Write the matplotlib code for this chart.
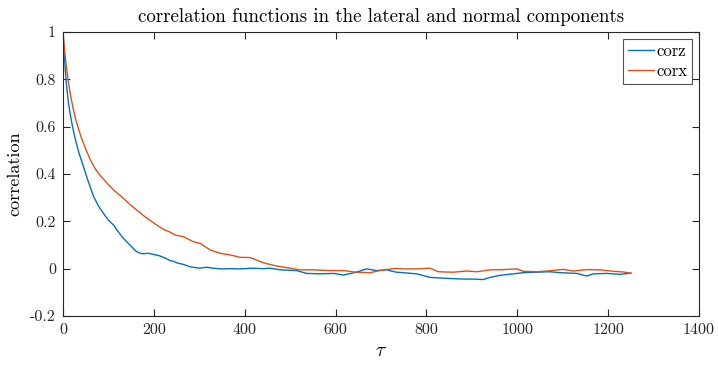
import matplotlib
matplotlib.use("Agg")
import matplotlib.pyplot as plt

plt.rcParams["font.family"] = "serif"
plt.rcParams["font.serif"] = ["cmr10", "DejaVu Serif"]
plt.rcParams["mathtext.fontset"] = "cm"
plt.rcParams["axes.unicode_minus"] = False
plt.rcParams["axes.formatter.use_mathtext"] = True

# lag values and correlation estimates
tau_z = [0, 2, 5, 8, 12, 17, 22, 28, 35, 45, 55, 67, 78, 89, 100, 111, 122, 133, 142,
         151, 160, 166, 175, 188, 200, 213, 225, 236, 245, 250, 265, 280, 300, 316,
         330, 346, 370, 390, 419, 440, 456, 478, 514, 536, 566, 595, 617, 646, 668,
         690, 712, 734, 749, 779, 808, 845, 881, 903, 925, 940, 962, 991, 1013, 1043,
         1072, 1094, 1131, 1153, 1167, 1197, 1226, 1250]
corz = [1.0, 0.93, 0.84, 0.77, 0.70, 0.64, 0.59, 0.54, 0.49, 0.431, 0.372, 0.306,
        0.265, 0.234, 0.205, 0.185, 0.155, 0.128, 0.11, 0.093, 0.075, 0.068, 0.063,
        0.065, 0.06, 0.054, 0.045, 0.034, 0.03, 0.025, 0.018, 0.008, 0.002, 0.006,
        0.002, -0.001, 0.0, -0.001, 0.002, 0.0, 0.002, -0.005, -0.008, -0.02, -0.022,
        -0.02, -0.027, -0.015, -0.001, -0.008, -0.005, -0.015, -0.017, -0.022, -0.037,
        -0.041, -0.044, -0.044, -0.046, -0.037, -0.028, -0.022, -0.017, -0.015, -0.013,
        -0.017, -0.02, -0.031, -0.022, -0.02, -0.024, -0.019]

tau_x = [0, 3, 7, 11, 16, 22, 28, 35, 42, 50, 60, 70, 78, 95, 111, 122, 133, 148, 162,
         180, 199, 221, 235, 247, 265, 287, 302, 324, 346, 368, 390, 412, 441, 470, 500,
         522, 551, 588, 617, 646, 676, 705, 734, 749, 779, 808, 826, 859, 889, 911,
         940, 969, 999, 1013, 1043, 1072, 1101, 1123, 1153, 1182, 1211, 1233, 1250]
corx = [1.0, 0.93, 0.86, 0.80, 0.74, 0.68, 0.63, 0.585, 0.545, 0.505, 0.46, 0.425,
        0.403, 0.365, 0.333, 0.315, 0.297, 0.27, 0.248, 0.22, 0.194, 0.166, 0.155,
        0.142, 0.135, 0.114, 0.107, 0.079, 0.065, 0.058, 0.048, 0.047, 0.025, 0.011,
        0.002, -0.005, -0.005, -0.008, -0.008, -0.015, -0.017, -0.005, 0.001, -0.001,
        -0.001, 0.002, -0.013, -0.015, -0.01, -0.013, -0.005, -0.004, -0.001, -0.011,
        -0.013, -0.009, -0.003, -0.01, -0.004, -0.005, -0.011, -0.014, -0.019]

xticks = [0, 200, 400, 600, 800, 1000, 1200, 1400]
yticks = [-0.2, 0, 0.2, 0.4, 0.6, 0.8, 1]
ytick_labels = ["-0.2", "0", "0.2", "0.4", "0.6", "0.8", "1"]

fig = plt.figure(figsize=(7.18, 3.65), dpi=100)
ax = fig.add_axes([63 / 718, 1 - 316 / 365, 636 / 718, 284 / 365])

ax.plot(tau_z, corz, color="#0072BD", lw=1.0, label="corz")
ax.plot(tau_x, corx, color="#D95319", lw=1.0, label="corx")

ax.set_xlim(0, 1400)
ax.set_ylim(-0.2, 1)
ax.set_xticks(xticks)
ax.set_xticklabels([str(t) for t in xticks])
ax.set_yticks(yticks)
ax.set_yticklabels(ytick_labels)

axis_col = "#262626"
for s in ax.spines.values():
    s.set_color(axis_col)
    s.set_linewidth(0.8)
ax.tick_params(direction="in", length=5, width=0.8, colors=axis_col,
               labelsize=11.5, top=True, right=True, pad=5)
for lbl in ax.get_xticklabels() + ax.get_yticklabels():
    lbl.set_color(axis_col)

ax.set_title("correlation functions in the lateral and normal components",
             fontsize=13.6, color="black", pad=7)
ax.set_xlabel(r"$\tau$", fontsize=14, labelpad=4)
ax.set_ylabel("correlation", fontsize=13, labelpad=6)

leg = ax.legend(loc="upper right", fontsize=12, frameon=True, fancybox=False,
                edgecolor=axis_col, handlelength=1.55, handletextpad=0.15,
                borderpad=0.3, labelspacing=0.3, borderaxespad=0.4)
leg.get_frame().set_linewidth(0.8)

fig.savefig("out.png", dpi=100)
